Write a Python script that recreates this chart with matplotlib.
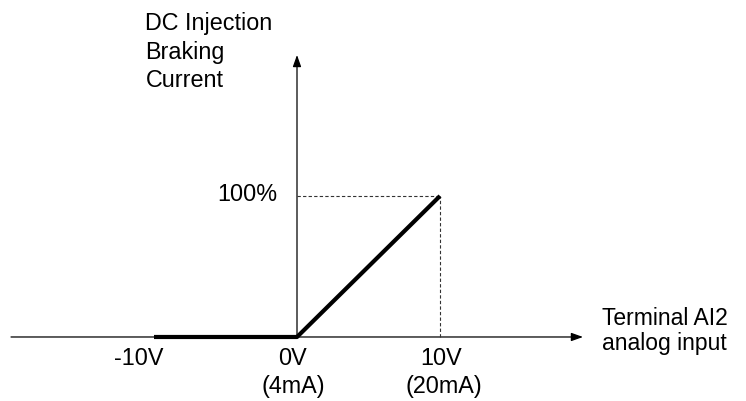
"""DC injection braking current vs. terminal AI2 analog input."""

import matplotlib

matplotlib.use("Agg")
import matplotlib.pyplot as plt

plt.rcParams["font.family"] = ["Liberation Sans", "DejaVu Sans"]

# Characteristic curve: input voltage (V) -> braking current (%)
INPUT_V = [-10, 0, 10]
CURRENT_PCT = [0, 0, 100]

TICK_VALUES = [-10, 0, 10]
TICK_VOLT_LABELS = ["-10V", "0V", "10V"]
TICK_MA_LABELS = ["", "(4mA)", "(20mA)"]

Y_LABEL_LINES = ["DC Injection", "Braking", "Current"]
X_LABEL_LINES = ["Terminal AI2", "analog input"]

AXIS_X_RANGE = (-20, 20)
AXIS_Y_TOP = 200

fig = plt.figure(figsize=(7.46, 4.01), dpi=100)
ax = fig.add_axes([0, 0, 1, 1])
ax.set_xlim(-20.77, 31.4)
ax.set_ylim(-45.4, 239)
ax.axis("off")

# axes with arrow heads
arrow = dict(arrowstyle="-|>,head_length=0.7,head_width=0.25", color="black",
             lw=0.9, shrinkA=0, shrinkB=0)
ax.annotate("", xy=(AXIS_X_RANGE[1], 0), xytext=(AXIS_X_RANGE[0], 0),
            arrowprops=arrow, zorder=2)
ax.annotate("", xy=(0, AXIS_Y_TOP), xytext=(0, 0), arrowprops=arrow, zorder=2)

# guide lines to the 100 % point
ax.plot([0, INPUT_V[-1]], [CURRENT_PCT[-1]] * 2, color="#333333", lw=0.8,
        ls=(0, (3, 2)), zorder=2)
ax.plot([INPUT_V[-1]] * 2, [0, CURRENT_PCT[-1]], color="#333333", lw=0.8,
        ls=(0, (3, 2)), zorder=2)

ax.plot(INPUT_V, CURRENT_PCT, color="black", lw=3, solid_capstyle="butt", zorder=3)

fs = 16.8
for line, base in zip(Y_LABEL_LINES, [217.7, 197.5, 177.5]):
    ax.text(-10.6, base, line, fontsize=fs, ha="left", va="baseline")
ax.text(-1.4, 96.5, f"{CURRENT_PCT[-1]}%", fontsize=fs, ha="right", va="baseline")

offsets = [-1.05, -0.28, 0.1]
ma_offsets = [0, -0.25, 0.25]
for v, volt, ma, dx, dma in zip(TICK_VALUES, TICK_VOLT_LABELS, TICK_MA_LABELS,
                                offsets, ma_offsets):
    ax.text(v + dx, -19.9, volt, fontsize=fs, ha="center", va="baseline")
    if ma:
        ax.text(v + dma, -39.7, ma, fontsize=fs, ha="center", va="baseline")

ax.text(21.3, 8.6, X_LABEL_LINES[0], fontsize=16.5, ha="left", va="baseline")
ax.text(21.3, -9.0, X_LABEL_LINES[1], fontsize=16.5, ha="left", va="baseline")

fig.savefig("out.png", dpi=100)
